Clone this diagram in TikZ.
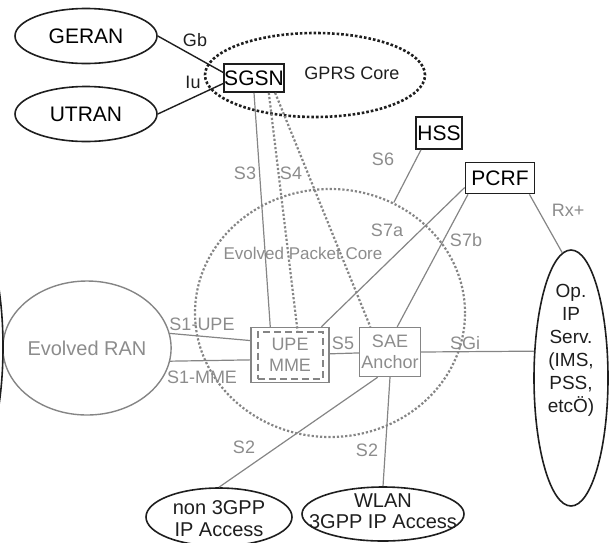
\documentclass[tikz,border=0pt]{standalone}
\usepackage{fontspec}
\setmainfont{Liberation Sans}
\usepackage{tikz}
\usetikzlibrary{shapes.geometric}

\definecolor{epcgray}{HTML}{858585}
\definecolor{lblgray}{HTML}{8C8C8C}
\definecolor{inkblack}{HTML}{1E1E1E}

\tikzstyle{blkell} = [ellipse, draw=inkblack, line width=0.8pt, inner sep=0pt,
  align=center, font=\fontsize{10.5}{11.5}\selectfont]
\tikzstyle{blkbox} = [rectangle, draw=inkblack, line width=0.8pt, fill=white,
  inner sep=0pt, font=\fontsize{10.5}{12}\selectfont]
\tikzstyle{grybox} = [rectangle, draw=epcgray, line width=0.7pt, inner sep=0pt,
  text=lblgray, align=center, font=\fontsize{9}{10.5}\selectfont]
\tikzstyle{iflabel} = [text=lblgray, font=\fontsize{9}{10}\selectfont]
\tikzstyle{blklabel} = [text=inkblack, align=center, font=\fontsize{10}{11}\selectfont]
\tikzstyle{glink} = [draw=epcgray, line width=0.6pt]
\tikzstyle{dlink} = [draw=epcgray, line width=1.1pt, densely dotted]
\tikzstyle{blink} = [draw=inkblack, line width=0.7pt]

\begin{document}
\begin{tikzpicture}[x=0.5pt, y=-0.5pt]
  \clip (0,0) rectangle (609,542);

  % cores
  \node[ellipse, draw=inkblack, line width=1.3pt, densely dotted,
    minimum width=110pt, minimum height=42pt] (gprs) at (315,75) {};
  \node[font=\fontsize{9}{10}\selectfont, text=inkblack] (gprslbl) at (352,73) {GPRS Core};
  \node[ellipse, draw=epcgray, line width=1.1pt, densely dotted,
    minimum width=135pt, minimum height=124pt] (epc) at (330,313) {};
  \node[iflabel, font=\fontsize{8.5}{10}\selectfont] (epclbl) at (303,253) {Evolved Packet Core};

  % access networks
  \node[blkell, minimum width=71pt, minimum height=27.5pt] (geran) at (86,36) {GERAN};
  \node[blkell, minimum width=71pt, minimum height=27.5pt] (utran) at (86,114) {UTRAN};
  \node[ellipse, draw=epcgray, line width=0.7pt, inner sep=0pt, text=lblgray,
    font=\fontsize{10}{11}\selectfont, minimum width=75pt, minimum height=67pt] (ran) at (87,348) {Evolved RAN};
  \node[blkell, minimum width=37pt, minimum height=128pt] (leftpart) at (-34,347) {};
  \node[blkell, minimum width=73pt, minimum height=29pt] (nongpp) at (219,517) {};
  \node[blklabel] (nongpplbl) at (219,519) {non 3GPP\\IP Access};
  \node[blkell, minimum width=81pt, minimum height=27pt] (wlan) at (383,514) {};
  \node[blklabel, font=\fontsize{10}{10.5}\selectfont] (wlanlbl) at (383,511) {WLAN\\3GPP IP Access};
  \node[blkell, minimum width=37pt, minimum height=128pt] (opip) at (571,378) {};
  \node[blklabel, font=\fontsize{9.5}{11.5}\selectfont] (opiplbl) at (571,350)
    {Op.\\IP\\Serv.\\(IMS,\\PSS,\\etcÖ)};

  % network elements
  \node[blkbox, minimum width=29.5pt, minimum height=14pt] (sgsn) at (254,78) {SGSN};
  \node[blkbox, minimum width=23pt, minimum height=16pt] (hss) at (439,133) {HSS};
  \node[blkbox, minimum width=34.5pt, minimum height=15.5pt] (pcrf) at (500,178) {PCRF};
  \node[grybox, minimum width=39pt, minimum height=27.5pt] (upemme) at (290,355) {};
  \node[grybox, draw=epcgray, line width=1pt, dash pattern=on 3.5pt off 2pt,
    minimum width=32.5pt, minimum height=23.5pt] (upeinner) at (290,355) {UPE\\MME};
  \node[grybox, minimum width=30.5pt, minimum height=24.5pt] (sae) at (390,352) {SAE\\Anchor};

  % interfaces
  \draw[blink] (geran.east) -- (sgsn.170);
  \draw[blink] (utran.east) -- (sgsn.190);
  \draw[glink] (sgsn.south) -- (upemme.125);
  \draw[dlink] (sgsn.-45) -- (upeinner.73);
  \draw[dlink] (sgsn.-35) -- (sae.128);
  \draw[glink] (hss.-137) -- (epc.60);
  \draw[glink] (pcrf.195) -- (upemme.42);
  \draw[glink] (pcrf.207) -- (sae.74);
  \draw[glink] (pcrf.-29) -- (opip.94);
  \draw[glink] (ran.10) -- (upemme.160);
  \draw[glink] (ran.-9) -- (upemme.187);
  \draw[glink] (upemme) -- (sae);
  \draw[glink] (sae.east) -- (opip.144);
  \draw[glink] (sae.244) -- (nongpp.north);
  \draw[glink] (sae.south) -- (wlan.north);

  \node[font=\fontsize{9}{10}\selectfont, text=inkblack] (gb) at (195,40) {Gb};
  \node[font=\fontsize{9}{10}\selectfont, text=inkblack] (iu) at (193,82) {Iu};
  \node[iflabel] (sthree) at (245,173) {S3};
  \node[iflabel] (sfour) at (291,173) {S4};
  \node[iflabel] (ssix) at (383,159) {S6};
  \node[iflabel] (ssevena) at (387,230) {S7a};
  \node[iflabel] (ssevenb) at (466,240) {S7b};
  \node[iflabel] (rxplus) at (568,210) {Rx+};
  \node[iflabel] (sone) at (202,324) {S1-UPE};
  \node[iflabel] (sonemme) at (202,377) {S1-MME};
  \node[iflabel] (sfive) at (343,343) {S5};
  \node[iflabel] (sgi) at (465,343) {SGi};
  \node[iflabel] (stwoa) at (244,447) {S2};
  \node[iflabel] (stwob) at (367,450) {S2};

\end{tikzpicture}
\end{document}
